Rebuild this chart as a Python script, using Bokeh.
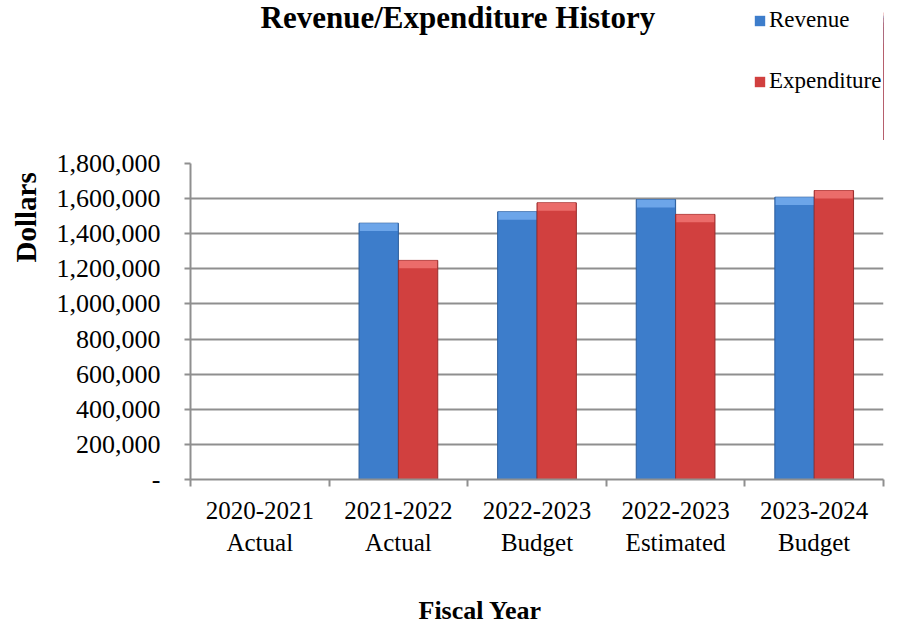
import numpy as np
from bokeh.plotting import figure
from bokeh.layouts import column
from bokeh.models import (Range1d, FixedTicker, NumeralTickFormatter, Label,
                          Legend, LegendItem, Title)
from bokeh.embed import file_html
from bokeh.resources import INLINE

# ---- data ----
years = ["2020-2021", "2021-2022", "2022-2023", "2022-2023", "2023-2024"]
kinds = ["Actual", "Actual", "Budget", "Estimated", "Budget"]
revenue = [0, 1460000, 1525000, 1595000, 1608000]
expenditure = [0, 1248000, 1576000, 1510000, 1646000]
y_ticks = [0, 200000, 400000, 600000, 800000, 1000000, 1200000, 1400000, 1600000, 1800000]

FONT = "Liberation Serif"
GRID = "#8f8f8f"
BLUE, BLUE_D, BLUE_L = "#3d7dcb", "#2c5d9b", "#74abef"
RED, RED_D, RED_L = "#d1403f", "#992d2d", "#f07472"

n = len(years)
centers = np.arange(n) + 0.5
bw = 0.284
bevel = 45000

TOP_H = 140
BOT_H = 40
MAIN_H = 624 - TOP_H - BOT_H


def strip(h, xr=(0, 1), yr=(0, 1)):
    f = figure(width=906, height=h, output_backend="svg", toolbar_location=None,
               title=None, x_axis_type=None, y_axis_type=None,
               x_range=Range1d(*xr), y_range=Range1d(*yr), min_border=0)
    f.outline_line_color = None
    f.xgrid.grid_line_color = None
    f.ygrid.grid_line_color = None
    return f


# ---------- top strip: title + legend ----------
# (the series are drawn here out of view, only to give the legend its swatches)
top = strip(TOP_H, xr=(-3, -2), yr=(0, y_ticks[-1]))
lr = top.vbar(x=centers, top=revenue, width=bw, fill_color=BLUE, line_color=None)
le = top.vbar(x=centers, top=expenditure, width=bw, fill_color=RED, line_color=None)
top.add_layout(Label(x=70, y=TOP_H + 11 - 28, x_units="screen", y_units="screen",
                     text="Revenue/Expenditure History", text_font=FONT, text_color="black",
                     text_font_size="31px", text_font_style="bold",
                     text_align="left", text_baseline="alphabetic"))
legend = Legend(items=[LegendItem(label="Revenue", renderers=[lr]),
                       LegendItem(label="Expenditure", renderers=[le])],
                location=(563, 46), orientation="vertical",
                label_text_font=FONT, label_text_font_size="23px", label_text_color="black",
                glyph_width=13, glyph_height=13, label_standoff=3,
                spacing=35, padding=0, margin=0,
                border_line_color=None, background_fill_alpha=0)
top.add_layout(legend, "center")

# ---------- main chart ----------
p = figure(width=906, height=MAIN_H, output_backend="svg", toolbar_location=None,
           title=None, x_range=Range1d(0, n), y_range=Range1d(0, y_ticks[-1]),
           min_border_left=187, min_border_right=23, min_border_top=163 - TOP_H,
           min_border_bottom=int(round(MAIN_H + TOP_H - 479.3)))
p.outline_line_color = None

rev = np.array(revenue, dtype=float)
exp = np.array(expenditure, dtype=float)

p.vbar(x=centers - bw / 2, top=rev, width=bw, bottom=0,
       fill_color=BLUE, line_color=BLUE_D, line_width=1)
p.vbar(x=centers + bw / 2, top=exp, width=bw, bottom=0,
       fill_color=RED, line_color=RED_D, line_width=1)
mr = rev > 0
me = exp > 0
p.vbar(x=(centers - bw / 2)[mr], top=rev[mr], bottom=rev[mr] - bevel, width=bw * 0.96,
       fill_color=BLUE_L, line_color=None, fill_alpha=0.85)
p.vbar(x=(centers + bw / 2)[me], top=exp[me], bottom=exp[me] - bevel, width=bw * 0.96,
       fill_color=RED_L, line_color=None, fill_alpha=0.85)

# y axis
yax = p.yaxis[0]
yax.ticker = FixedTicker(ticks=y_ticks, minor_ticks=[])
yax.formatter = NumeralTickFormatter(format="0,0")
yax.major_label_overrides = {0: "-"}
yax.major_label_text_font = FONT
yax.major_label_text_font_size = "26px"
yax.major_label_text_color = "black"
yax.axis_line_color = GRID
yax.axis_line_width = 2
yax.major_tick_line_color = GRID
yax.major_tick_line_width = 2
yax.major_tick_out = 6
yax.major_tick_in = 0
yax.major_label_standoff = 24

# x axis
xax = p.xaxis[0]
xax.ticker = FixedTicker(ticks=list(centers), minor_ticks=list(range(n + 1)))
xax.major_label_overrides = {float(c): f"{y}\n{k}" for c, y, k in zip(centers, years, kinds)}
xax.major_label_text_font = FONT
xax.major_label_text_font_size = "25px"
xax.major_label_text_color = "black"
xax.major_label_text_line_height = 1.2
xax.axis_line_color = GRID
xax.axis_line_width = 2
xax.major_tick_line_color = None
xax.major_tick_out = 0
xax.major_tick_in = 0
xax.minor_tick_line_color = GRID
xax.minor_tick_line_width = 2
xax.minor_tick_out = 7
xax.minor_tick_in = 0
xax.major_label_standoff = 10

p.xgrid.grid_line_color = None
p.ygrid.grid_line_color = GRID
p.ygrid.grid_line_width = 2

p.add_layout(Title(text="Dollars", text_font=FONT, text_font_size="29px", text_color="black",
                   text_font_style="bold", align="left", vertical_align="top",
                   offset=217, standoff=19), "left")

# ---------- bottom strip: x axis title ----------
bot = strip(BOT_H)
bot.add_layout(Label(x=228, y=14.5, x_units="screen", y_units="screen",
                     text="Fiscal Year", text_font=FONT, text_color="black",
                     text_font_size="26px", text_font_style="bold",
                     text_align="left", text_baseline="alphabetic"))

layout = column(top, p, bot, spacing=0)
open("out.html", "w").write(file_html(layout, INLINE))
